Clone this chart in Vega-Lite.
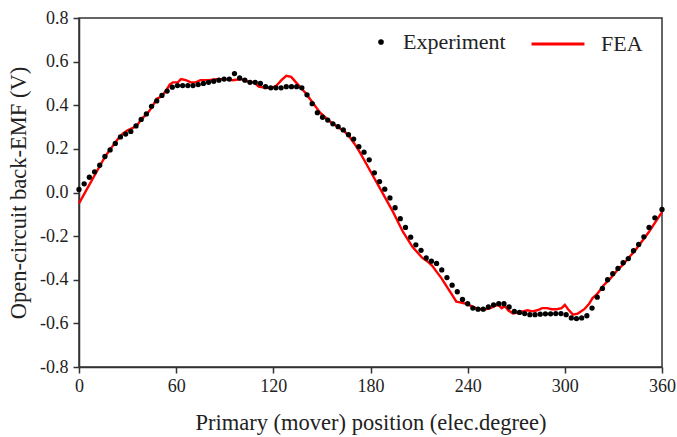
{
  "$schema": "https://vega.github.io/schema/vega-lite/v6.json",
  "width": 583,
  "height": 349,
  "autosize": "none",
  "padding": {"left": 79, "top": 18, "right": 15, "bottom": 70},
  "background": "white",
  "config": {
    "font": "Liberation Serif",
    "view": {"stroke": "#333", "strokeWidth": 1.5},
    "axis": {
      "grid": false,
      "domainColor": "#333",
      "domainWidth": 1.5,
      "tickColor": "#333",
      "tickWidth": 1.5,
      "tickSize": 6,
      "labelFont": "Liberation Serif",
      "labelFontSize": 18,
      "labelColor": "#222",
      "titleFont": "Liberation Serif",
      "titleFontSize": 22.5,
      "titleFontWeight": "normal",
      "titleColor": "#222"
    },
    "legend": {
      "labelFont": "Liberation Serif",
      "labelFontSize": 22,
      "labelColor": "#222",
      "padding": 0
    }
  },
  "datasets": {
    "exp": [
      {"pos": 0, "emf": 0.014}, {"pos": 3.2, "emf": 0.04}, {"pos": 6.4, "emf": 0.07}, {"pos": 9.6, "emf": 0.095},
      {"pos": 12.8, "emf": 0.125}, {"pos": 16.0, "emf": 0.165}, {"pos": 19.2, "emf": 0.195}, {"pos": 22.4, "emf": 0.225},
      {"pos": 25.6, "emf": 0.255}, {"pos": 28.8, "emf": 0.268}, {"pos": 32.0, "emf": 0.28}, {"pos": 35.2, "emf": 0.305},
      {"pos": 38.4, "emf": 0.335}, {"pos": 41.6, "emf": 0.36}, {"pos": 44.8, "emf": 0.395}, {"pos": 48.0, "emf": 0.42},
      {"pos": 51.2, "emf": 0.445}, {"pos": 54.4, "emf": 0.465}, {"pos": 57.6, "emf": 0.483}, {"pos": 60.8, "emf": 0.49},
      {"pos": 64.0, "emf": 0.49}, {"pos": 67.2, "emf": 0.49}, {"pos": 70.4, "emf": 0.49}, {"pos": 73.6, "emf": 0.495},
      {"pos": 76.8, "emf": 0.5}, {"pos": 80.0, "emf": 0.505}, {"pos": 83.2, "emf": 0.51}, {"pos": 86.4, "emf": 0.515},
      {"pos": 89.6, "emf": 0.52}, {"pos": 92.8, "emf": 0.52}, {"pos": 96.0, "emf": 0.545}, {"pos": 99.2, "emf": 0.525},
      {"pos": 102.4, "emf": 0.515}, {"pos": 105.6, "emf": 0.505}, {"pos": 108.8, "emf": 0.505}, {"pos": 112.0, "emf": 0.5},
      {"pos": 115.2, "emf": 0.485}, {"pos": 118.4, "emf": 0.48}, {"pos": 121.6, "emf": 0.48}, {"pos": 124.8, "emf": 0.48},
      {"pos": 128.0, "emf": 0.485}, {"pos": 131.2, "emf": 0.485}, {"pos": 134.4, "emf": 0.485}, {"pos": 137.6, "emf": 0.48},
      {"pos": 140.8, "emf": 0.448}, {"pos": 144.0, "emf": 0.407}, {"pos": 147.2, "emf": 0.366}, {"pos": 150.4, "emf": 0.345},
      {"pos": 153.6, "emf": 0.332}, {"pos": 156.8, "emf": 0.315}, {"pos": 160.0, "emf": 0.302}, {"pos": 163.2, "emf": 0.287},
      {"pos": 166.4, "emf": 0.265}, {"pos": 169.6, "emf": 0.245}, {"pos": 172.8, "emf": 0.21}, {"pos": 176.0, "emf": 0.185},
      {"pos": 179.2, "emf": 0.15}, {"pos": 182.4, "emf": 0.09}, {"pos": 185.6, "emf": 0.05}, {"pos": 188.8, "emf": 0.015},
      {"pos": 192.0, "emf": -0.025}, {"pos": 195.2, "emf": -0.07}, {"pos": 198.4, "emf": -0.12}, {"pos": 201.6, "emf": -0.16},
      {"pos": 204.8, "emf": -0.205}, {"pos": 208.0, "emf": -0.24}, {"pos": 211.2, "emf": -0.265}, {"pos": 214.4, "emf": -0.3},
      {"pos": 217.6, "emf": -0.315}, {"pos": 220.8, "emf": -0.325}, {"pos": 224.0, "emf": -0.355}, {"pos": 227.2, "emf": -0.39},
      {"pos": 230.4, "emf": -0.425}, {"pos": 233.6, "emf": -0.455}, {"pos": 236.8, "emf": -0.49}, {"pos": 240.0, "emf": -0.51},
      {"pos": 243.2, "emf": -0.53}, {"pos": 246.4, "emf": -0.535}, {"pos": 249.6, "emf": -0.535}, {"pos": 252.8, "emf": -0.525},
      {"pos": 256.0, "emf": -0.515}, {"pos": 259.2, "emf": -0.51}, {"pos": 262.4, "emf": -0.51}, {"pos": 265.6, "emf": -0.525},
      {"pos": 268.8, "emf": -0.545}, {"pos": 272.0, "emf": -0.55}, {"pos": 275.2, "emf": -0.555}, {"pos": 278.4, "emf": -0.56},
      {"pos": 281.6, "emf": -0.56}, {"pos": 284.8, "emf": -0.558}, {"pos": 288.0, "emf": -0.556}, {"pos": 291.2, "emf": -0.556},
      {"pos": 294.4, "emf": -0.555}, {"pos": 297.6, "emf": -0.555}, {"pos": 300.8, "emf": -0.56}, {"pos": 304.0, "emf": -0.575},
      {"pos": 307.2, "emf": -0.578}, {"pos": 310.4, "emf": -0.575}, {"pos": 313.6, "emf": -0.565}, {"pos": 316.8, "emf": -0.53},
      {"pos": 320.0, "emf": -0.48}, {"pos": 323.2, "emf": -0.44}, {"pos": 326.4, "emf": -0.4}, {"pos": 329.6, "emf": -0.372},
      {"pos": 332.8, "emf": -0.348}, {"pos": 336.0, "emf": -0.322}, {"pos": 339.2, "emf": -0.303}, {"pos": 342.4, "emf": -0.267},
      {"pos": 345.6, "emf": -0.238}, {"pos": 348.8, "emf": -0.203}, {"pos": 352.0, "emf": -0.16}, {"pos": 355.6, "emf": -0.116},
      {"pos": 360.0, "emf": -0.078}
    ],
    "fea": [
      {"pos": 0, "emf": -0.05}, {"pos": 3, "emf": -0.01}, {"pos": 6, "emf": 0.03}, {"pos": 9, "emf": 0.07},
      {"pos": 12, "emf": 0.11}, {"pos": 15, "emf": 0.15}, {"pos": 18, "emf": 0.185}, {"pos": 21, "emf": 0.215},
      {"pos": 24, "emf": 0.245}, {"pos": 27, "emf": 0.27}, {"pos": 30, "emf": 0.285}, {"pos": 33, "emf": 0.295},
      {"pos": 36, "emf": 0.31}, {"pos": 39, "emf": 0.34}, {"pos": 42, "emf": 0.36}, {"pos": 45, "emf": 0.39},
      {"pos": 48, "emf": 0.43}, {"pos": 51, "emf": 0.44}, {"pos": 54, "emf": 0.47}, {"pos": 56, "emf": 0.495},
      {"pos": 58, "emf": 0.505}, {"pos": 61, "emf": 0.505}, {"pos": 63, "emf": 0.52}, {"pos": 66, "emf": 0.515},
      {"pos": 69, "emf": 0.505}, {"pos": 72, "emf": 0.505}, {"pos": 75, "emf": 0.515}, {"pos": 80, "emf": 0.515},
      {"pos": 85, "emf": 0.52}, {"pos": 90, "emf": 0.52}, {"pos": 95, "emf": 0.515}, {"pos": 100, "emf": 0.52},
      {"pos": 104, "emf": 0.51}, {"pos": 108, "emf": 0.505}, {"pos": 111, "emf": 0.485}, {"pos": 115, "emf": 0.48},
      {"pos": 119, "emf": 0.48}, {"pos": 122, "emf": 0.49}, {"pos": 125, "emf": 0.515}, {"pos": 128, "emf": 0.535},
      {"pos": 131, "emf": 0.53}, {"pos": 134, "emf": 0.505}, {"pos": 137, "emf": 0.48}, {"pos": 140, "emf": 0.455},
      {"pos": 143, "emf": 0.425}, {"pos": 146, "emf": 0.395}, {"pos": 149, "emf": 0.365}, {"pos": 152, "emf": 0.345},
      {"pos": 155, "emf": 0.325}, {"pos": 158, "emf": 0.31}, {"pos": 161, "emf": 0.295}, {"pos": 164, "emf": 0.28},
      {"pos": 167, "emf": 0.255}, {"pos": 170, "emf": 0.225}, {"pos": 173, "emf": 0.19}, {"pos": 176, "emf": 0.15},
      {"pos": 179, "emf": 0.11}, {"pos": 182, "emf": 0.07}, {"pos": 185, "emf": 0.03}, {"pos": 188, "emf": -0.01},
      {"pos": 191, "emf": -0.05}, {"pos": 194, "emf": -0.09}, {"pos": 197, "emf": -0.135}, {"pos": 200, "emf": -0.18},
      {"pos": 203, "emf": -0.215}, {"pos": 206, "emf": -0.25}, {"pos": 209, "emf": -0.275}, {"pos": 212, "emf": -0.3},
      {"pos": 215, "emf": -0.315}, {"pos": 218, "emf": -0.335}, {"pos": 221, "emf": -0.365}, {"pos": 224, "emf": -0.395},
      {"pos": 227, "emf": -0.43}, {"pos": 230, "emf": -0.465}, {"pos": 233, "emf": -0.5}, {"pos": 236, "emf": -0.505},
      {"pos": 239, "emf": -0.51}, {"pos": 242, "emf": -0.52}, {"pos": 245, "emf": -0.53}, {"pos": 248, "emf": -0.535},
      {"pos": 251, "emf": -0.535}, {"pos": 254, "emf": -0.53}, {"pos": 257, "emf": -0.52}, {"pos": 259, "emf": -0.515},
      {"pos": 261, "emf": -0.53}, {"pos": 263, "emf": -0.52}, {"pos": 265, "emf": -0.54}, {"pos": 268, "emf": -0.555},
      {"pos": 271, "emf": -0.55}, {"pos": 274, "emf": -0.545}, {"pos": 277, "emf": -0.54}, {"pos": 280, "emf": -0.545},
      {"pos": 283, "emf": -0.54}, {"pos": 286, "emf": -0.53}, {"pos": 289, "emf": -0.53}, {"pos": 292, "emf": -0.535},
      {"pos": 295, "emf": -0.535}, {"pos": 298, "emf": -0.53}, {"pos": 300, "emf": -0.515}, {"pos": 302, "emf": -0.535},
      {"pos": 305, "emf": -0.56}, {"pos": 308, "emf": -0.555}, {"pos": 312, "emf": -0.535}, {"pos": 315, "emf": -0.51},
      {"pos": 317, "emf": -0.485}, {"pos": 320, "emf": -0.465}, {"pos": 324, "emf": -0.425}, {"pos": 328, "emf": -0.395},
      {"pos": 332, "emf": -0.36}, {"pos": 336, "emf": -0.33}, {"pos": 340, "emf": -0.295}, {"pos": 344, "emf": -0.26},
      {"pos": 348, "emf": -0.22}, {"pos": 352, "emf": -0.18}, {"pos": 356, "emf": -0.135}, {"pos": 360, "emf": -0.09}
    ]
  },
  "encoding": {
    "x": {
      "field": "pos", "type": "quantitative",
      "scale": {"domain": [0, 360], "nice": false, "zero": false},
      "axis": {"values": [0, 60, 120, 180, 240, 300, 360], "title": "Primary (mover) position (elec.degree)", "labelPadding": 4, "titlePadding": 16, "labelFlush": false}
    },
    "y": {
      "field": "emf", "type": "quantitative",
      "scale": {"domain": [-0.8, 0.8], "nice": false, "zero": false},
      "axis": {"values": [-0.8, -0.6, -0.4, -0.2, 0, 0.2, 0.4, 0.6, 0.8], "title": "Open-circuit back-EMF (V)", "labelPadding": 5, "titlePadding": 9,
        "labelExpr": "datum.value < -0.001 ? '-' + format(-datum.value, '.1f') : format(abs(datum.value), '.1f')", "labelFlush": false}
    }
  },
  "layer": [
    {
      "data": {"name": "fea"},
      "mark": {"type": "line", "strokeWidth": 2.4, "interpolate": "linear"},
      "encoding": {
        "color": {"datum": "FEA", "type": "nominal", "scale": {"domain": ["FEA"], "range": ["#ff0000"]},
          "legend": {"title": null, "orient": "none", "legendX": 451, "legendY": -2, "symbolType": "stroke", "symbolSize": 2800, "symbolStrokeWidth": 3, "labelOffset": 15}}
      }
    },
    {
      "data": {"name": "exp"},
      "mark": {"type": "point", "filled": true, "color": "#000", "size": 28, "opacity": 1},
      "encoding": {
        "shape": {"datum": "Experiment", "type": "nominal", "scale": {"domain": ["Experiment"], "range": ["circle"]},
          "legend": {"title": null, "orient": "none", "legendX": 291, "legendY": 13, "symbolSize": 32, "symbolFillColor": "#000", "symbolStrokeWidth": 0, "symbolOpacity": 1, "labelOffset": 11}}
      }
    }
  ]
}
